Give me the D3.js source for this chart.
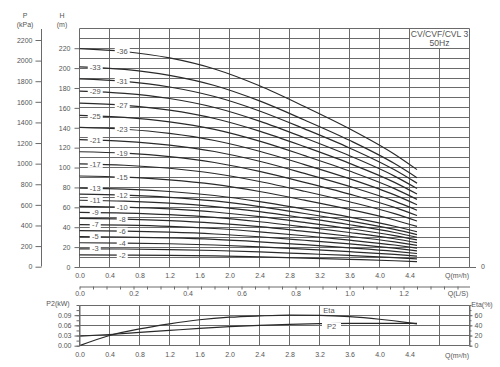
<!DOCTYPE html>
<meta charset="utf-8">
<script src="https://d3js.org/d3.v7.min.js"></script>
<style>
  body { margin: 0; background: #fff; }
  text { font-family: "Liberation Sans", Arial, sans-serif; fill: #555; }
</style>
<div id="my_dataviz"></div>
<script>

// flow points (m3/h) where the head curves were read
var flowPts = [0, 0.6, 1.2, 1.8, 2.4, 3.0, 3.6, 4.2, 4.5];

// number of stages for each curve, top to bottom
var stages = [36, 33, 31, 29, 27, 25, 23, 21, 19, 17, 15, 13, 12, 11, 10, 9, 8, 7, 6, 5, 4, 3, 2];

// head (m) at flowPts, one row per curve
var heads = [
  [219.6, 216.7, 210.2, 199.1, 182.2, 161.3, 139.0, 113.4, 97.9],
  [201.3, 198.7, 192.7, 182.5, 167.0, 147.8, 127.4, 104.0, 89.8],
  [189.1, 186.6, 181.0, 171.4, 156.9, 138.9, 119.7, 97.7, 84.3],
  [176.9, 174.6, 169.4, 160.4, 146.7, 129.9, 111.9, 91.4, 78.9],
  [164.7, 162.5, 157.7, 149.3, 136.6, 121.0, 104.2, 85.1, 73.4],
  [152.5, 150.5, 146.0, 138.3, 126.5, 112.0, 96.5, 78.8, 68.0],
  [140.3, 138.5, 134.3, 127.2, 116.4, 103.0, 88.8, 72.5, 62.6],
  [128.1, 126.4, 122.6, 116.1, 106.3, 94.1, 81.1, 66.2, 57.1],
  [115.9, 114.4, 111.0, 105.1, 96.1, 85.1, 73.3, 59.9, 51.7],
  [103.7, 102.3, 99.3, 94.0, 86.0, 76.2, 65.6, 53.6, 46.2],
  [91.5, 90.3, 87.6, 83.0, 75.9, 67.2, 57.9, 47.3, 40.8],
  [79.3, 78.3, 75.9, 71.9, 65.8, 58.2, 50.2, 41.0, 35.4],
  [73.2, 72.2, 70.1, 66.4, 60.7, 53.8, 46.3, 37.8, 32.6],
  [67.1, 66.2, 64.2, 60.8, 55.7, 49.3, 42.5, 34.7, 29.9],
  [61.0, 60.2, 58.4, 55.3, 50.6, 44.8, 38.6, 31.5, 27.2],
  [54.9, 54.2, 52.6, 49.8, 45.5, 40.3, 34.7, 28.4, 24.5],
  [48.8, 48.2, 46.7, 44.2, 40.5, 35.8, 30.9, 25.2, 21.8],
  [42.7, 42.1, 40.9, 38.7, 35.4, 31.4, 27.0, 22.1, 19.0],
  [36.6, 36.1, 35.0, 33.2, 30.4, 26.9, 23.2, 18.9, 16.3],
  [30.5, 30.1, 29.2, 27.7, 25.3, 22.4, 19.3, 15.8, 13.6],
  [24.4, 24.1, 23.4, 22.1, 20.2, 17.9, 15.4, 12.6, 10.9],
  [18.3, 18.1, 17.5, 16.6, 15.2, 13.4, 11.6, 9.5, 8.2],
  [12.2, 12.0, 11.7, 11.1, 10.1, 9.0, 7.7, 6.3, 5.4]
];

// lower chart: power P2 (kW) and efficiency (%)
var flowLow = [0, 0.4, 0.8, 1.2, 1.6, 2.0, 2.4, 2.8, 3.2, 3.6, 4.0, 4.4, 4.5];
var powerP2 = [0.028, 0.033, 0.039, 0.045, 0.051, 0.056, 0.060, 0.063, 0.065, 0.066, 0.066, 0.066, 0.066];
var etaPct  = [0, 20, 33, 43, 51, 56, 58.5, 60, 59.5, 57, 52, 45, 43];

// tick labels
var qTicks = [0, 0.4, 0.8, 1.2, 1.6, 2.0, 2.4, 2.8, 3.2, 3.6, 4.0, 4.4];
var hTicks = [0, 20, 40, 60, 80, 100, 120, 140, 160, 180, 200, 220];
var pTicks = [0, 200, 400, 600, 800, 1000, 1200, 1400, 1600, 1800, 2000, 2200];
var lsTicks = [0, 0.2, 0.4, 0.6, 0.8, 1.0, 1.2];
var p2Ticks = [0, 0.03, 0.06, 0.09];
var etaTicks = [0, 20, 40, 60];

var W = 500, H = 367;
var gridColor = "#6a6a6a", curveColor = "#2a2a2a";

var svg = d3.select("#my_dataviz")
  .append("svg")
    .attr("width", W)
    .attr("height", H);

// scales
var x = d3.scaleLinear().domain([0, 5.2]).range([79.5, 469.5]);
var y = d3.scaleLinear().domain([0, 240]).range([267, 28.3]);
var yP = d3.scaleLinear().domain([0, 2200]).range([266.7, 40]);
var xLs = d3.scaleLinear().domain([0, 5.2 / 3.6]).range(x.range());
var yK = d3.scaleLinear().domain([0, 0.12]).range([345.7, 305]);
var yE = d3.scaleLinear().domain([0, 80]).range([345.7, 305]);

function px(v) { return Math.round(v - 0.5) + 0.5; }

var vLines = d3.range(0, 14).map(function(i) { return i * 0.4; });
var hLines = d3.range(0, 25).map(function(i) { return i * 10; });

// ---------- main chart grid ----------
var grid = svg.append("g").attr("stroke", gridColor).attr("stroke-width", 1);
grid.selectAll(".v").data(vLines).enter().append("line")
  .attr("x1", function(d) { return px(x(d)); })
  .attr("x2", function(d) { return px(x(d)); })
  .attr("y1", px(y(240))).attr("y2", px(y(0)));
grid.selectAll(".h").data(hLines).enter().append("line")
  .attr("x1", px(x(0))).attr("x2", px(x(5.2)))
  .attr("y1", function(d) { return px(y(d)); })
  .attr("y2", function(d) { return px(y(d)); });

// right side "0" tick
svg.append("line").attr("stroke", gridColor)
  .attr("x1", px(x(5.2))).attr("x2", 476).attr("y1", px(y(0))).attr("y2", px(y(0)));
svg.append("text").attr("x", 483).attr("y", y(0)).attr("dy", "0.35em")
  .attr("text-anchor", "middle").attr("font-size", 7).text("0");

// head curves
var line = d3.line()
  .x(function(d) { return x(d[0]); })
  .y(function(d) { return y(d[1]); })
  .curve(d3.curveMonotoneX);

svg.append("g").selectAll("path")
  .data(heads).enter().append("path")
    .attr("fill", "none")
    .attr("stroke", curveColor)
    .attr("stroke-width", 1.2)
    .attr("d", function(d) { return line(d3.zip(flowPts, d)); });

// stage labels, alternating left / right
var lab = svg.append("g");
stages.forEach(function(n, i) {
  var q = (i % 2 === 0) ? 0.57 : 0.21;
  var hAt = d3.scaleLinear().domain(flowPts).range(heads[i]);
  var cx = x(q), cy = y(hAt(q));
  var t = "-" + n;
  var w = t.length * 4 + 3;
  lab.append("rect").attr("x", cx - w / 2).attr("y", cy - 3.5)
    .attr("width", w).attr("height", 7).attr("fill", "#fff");
  lab.append("text").attr("x", cx).attr("y", cy).attr("dy", "0.35em")
    .attr("text-anchor", "middle").attr("font-size", 7.5).text(t);
});

// model box
svg.append("rect").attr("x", px(x(4.4)) + 0.5).attr("y", px(y(240)) + 0.5)
  .attr("width", px(x(5.2)) - px(x(4.4)) - 1).attr("height", px(y(220)) - px(y(240)) - 1)
  .attr("fill", "#fff");
svg.append("text").attr("x", (x(4.4) + x(5.2)) / 2).attr("y", 36.5)
  .attr("text-anchor", "middle").attr("font-size", 8.6).attr("fill", "#333").text("CV/CVF/CVL 3");
svg.append("text").attr("x", (x(4.4) + x(5.2)) / 2).attr("y", 46.3)
  .attr("text-anchor", "middle").attr("font-size", 8.6).attr("fill", "#333").text("50Hz");

// H axis
var hAxis = svg.append("g").attr("transform", "translate(" + px(x(0)) + ",0)")
  .call(d3.axisLeft(y).tickValues(hTicks).tickSize(5).tickPadding(4));
hAxis.select(".domain").remove();

// P axis
svg.append("line").attr("stroke", gridColor)
  .attr("x1", 41.5).attr("x2", 41.5).attr("y1", 29).attr("y2", px(yP(0)));
var pAxis = svg.append("g").attr("transform", "translate(41.5,0)")
  .call(d3.axisLeft(yP).tickValues(pTicks).tickSize(6).tickPadding(3).tickFormat(d3.format("d")));
pAxis.select(".domain").remove();

svg.append("text").attr("x", 25).attr("y", 18).attr("text-anchor", "middle").attr("font-size", 7).text("P");
svg.append("text").attr("x", 25).attr("y", 27).attr("text-anchor", "middle").attr("font-size", 7).text("(kPa)");
svg.append("text").attr("x", 62).attr("y", 18).attr("text-anchor", "middle").attr("font-size", 7).text("H");
svg.append("text").attr("x", 62).attr("y", 27).attr("text-anchor", "middle").attr("font-size", 7).text("(m)");

// Q axis under main chart
var qAxis = svg.append("g").attr("transform", "translate(0," + px(y(0)) + ")")
  .call(d3.axisBottom(x).tickValues(qTicks).tickSize(0).tickPadding(6).tickFormat(d3.format(".1f")));
qAxis.select(".domain").remove();
svg.append("text").attr("x", 457).attr("y", 278).attr("text-anchor", "middle").attr("font-size", 7).text("Q(m³/h)");

// Q (L/S) axis
var lsAxis = svg.append("g").attr("transform", "translate(0,286.5)")
  .call(d3.axisBottom(xLs).tickValues(d3.range(0, 29).map(function(i) { return i * 0.05; }))
    .tickSize(3).tickSizeOuter(0).tickFormat(""));
lsAxis.selectAll("line, path").attr("stroke", gridColor);
var lsLab = svg.append("g").attr("transform", "translate(0,286.5)")
  .call(d3.axisBottom(xLs).tickValues(lsTicks).tickSize(0).tickPadding(5).tickFormat(d3.format(".1f")));
lsLab.select(".domain").remove();
svg.append("text").attr("x", 458).attr("y", 296).attr("text-anchor", "middle").attr("font-size", 7).text("Q(L/S)");

// ---------- lower chart ----------
var grid2 = svg.append("g").attr("stroke", gridColor).attr("stroke-width", 1);
grid2.selectAll(".v").data(vLines).enter().append("line")
  .attr("x1", function(d) { return px(x(d)); })
  .attr("x2", function(d) { return px(x(d)); })
  .attr("y1", px(yK(0.12))).attr("y2", px(yK(0)));
grid2.selectAll(".h").data([0, 0.03, 0.06, 0.09, 0.12]).enter().append("line")
  .attr("x1", px(x(0))).attr("x2", px(x(5.2)))
  .attr("y1", function(d) { return px(yK(d)); })
  .attr("y2", function(d) { return px(yK(d)); });

var line2 = d3.line().curve(d3.curveMonotoneX);

svg.append("path")
  .attr("fill", "none").attr("stroke", curveColor).attr("stroke-width", 1.2)
  .attr("d", line2(flowLow.map(function(q, i) { return [x(q), yK(powerP2[i])]; })));
svg.append("path")
  .attr("fill", "none").attr("stroke", curveColor).attr("stroke-width", 1.2)
  .attr("d", line2(flowLow.map(function(q, i) { return [x(q), yE(etaPct[i])]; })));

// curve names
svg.append("rect").attr("x", 322).attr("y", 323).attr("width", 19).attr("height", 7).attr("fill", "#fff");
svg.append("text").attr("x", 331.5).attr("y", 326.5).attr("dy", "0.35em")
  .attr("text-anchor", "middle").attr("font-size", 7.5).text("P2");
svg.append("rect").attr("x", 321).attr("y", 306.5).attr("width", 16).attr("height", 7).attr("fill", "#fff");
svg.append("text").attr("x", 329).attr("y", 310).attr("dy", "0.35em")
  .attr("text-anchor", "middle").attr("font-size", 7.5).text("Eta");

// left P2 axis
var kMinor = svg.append("g").attr("transform", "translate(" + px(x(0)) + ",0)")
  .call(d3.axisLeft(yK).tickValues(d3.range(0, 9).map(function(i) { return i * 0.015; }))
    .tickSize(3).tickSizeOuter(0).tickFormat(""));
kMinor.selectAll("line, path").attr("stroke", gridColor);
var kAxis = svg.append("g").attr("transform", "translate(" + px(x(0)) + ",0)")
  .call(d3.axisLeft(yK).tickValues(p2Ticks).tickSize(5).tickPadding(3).tickFormat(d3.format(".2f")));
kAxis.select(".domain").remove();
svg.append("text").attr("x", 58).attr("y", 306).attr("text-anchor", "middle").attr("font-size", 7).text("P2(kW)");

// right Eta axis
var eMinor = svg.append("g").attr("transform", "translate(" + px(x(5.2)) + ",0)")
  .call(d3.axisRight(yE).tickValues(d3.range(0, 9).map(function(i) { return i * 10; }))
    .tickSize(2).tickSizeOuter(0).tickFormat(""));
eMinor.selectAll("line, path").attr("stroke", gridColor);
var eAxis = svg.append("g").attr("transform", "translate(" + px(x(5.2)) + ",0)")
  .call(d3.axisRight(yE).tickValues(etaTicks).tickSize(3).tickPadding(2));
eAxis.select(".domain").remove();
svg.append("text").attr("x", 482).attr("y", 307).attr("text-anchor", "middle").attr("font-size", 7).text("Eta(%)");

// Q axis under lower chart
var q2Axis = svg.append("g").attr("transform", "translate(0," + px(yK(0)) + ")")
  .call(d3.axisBottom(x).tickValues(qTicks).tickSize(0).tickPadding(7).tickFormat(d3.format(".1f")));
q2Axis.select(".domain").remove();
svg.append("text").attr("x", 457).attr("y", 358).attr("text-anchor", "middle").attr("font-size", 7).text("Q(m³/h)");

// axis text and tick style
svg.selectAll(".tick text").attr("font-size", 7).attr("fill", "#555")
  .attr("font-family", "'Liberation Sans', Arial, sans-serif");
svg.selectAll(".tick line").attr("stroke", gridColor);

</script>
